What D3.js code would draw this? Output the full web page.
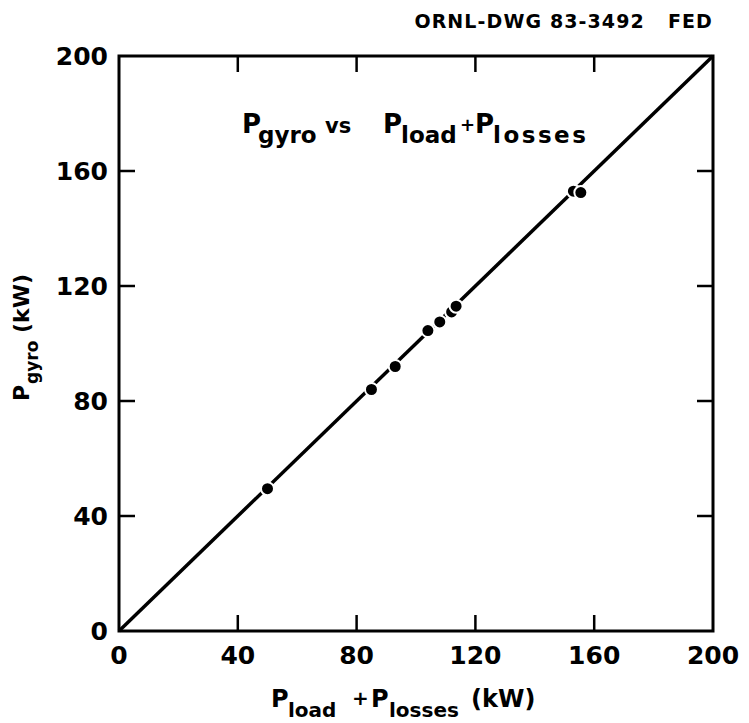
<!DOCTYPE html>
<html>
<head>
<meta charset="utf-8">
<script src="https://cdn.jsdelivr.net/npm/d3@7"></script>
<style>
  body { margin: 0; background: #fff; }
  text { font-family: 'DejaVu Sans', sans-serif; fill: #000; }
</style>
</head>
<body>
<svg id="chart" width="749" height="723"></svg>
<script>
// measured points (kW)
const pLoadLosses = [50, 85, 93, 104, 108, 112, 113.5, 153, 155.5]
const pGyro = [49.5, 84, 92, 104.5, 107.5, 111, 113, 153, 152.5]
const xTicks = [0, 40, 80, 120, 160, 200]
const yTicks = [0, 40, 80, 120, 160, 200]
const fitLine = [[0, 0], [200, 200]]

const width = 749
const height = 723
const margin = { top: 56, right: 36, bottom: 92, left: 119 }

const svg = d3.select('#chart')

const x = d3.scaleLinear().domain([0, 200]).range([margin.left, width - margin.right])
const y = d3.scaleLinear().domain([0, 200]).range([height - margin.bottom, margin.top])

const tickLen = 16

// frame
svg.append('rect')
  .attr('x', x(0)).attr('y', y(200))
  .attr('width', x(200) - x(0)).attr('height', y(0) - y(200))
  .attr('fill', 'none').attr('stroke', '#000').attr('stroke-width', 3)

// inward ticks on all four sides
const ticks = svg.append('g').attr('stroke', '#000').attr('stroke-width', 2.5)
xTicks.slice(1, -1).forEach((t) => {
  ticks.append('line').attr('x1', x(t)).attr('x2', x(t)).attr('y1', y(0)).attr('y2', y(0) - tickLen)
  ticks.append('line').attr('x1', x(t)).attr('x2', x(t)).attr('y1', y(200)).attr('y2', y(200) + tickLen)
})
yTicks.slice(1, -1).forEach((t) => {
  ticks.append('line').attr('x1', x(0)).attr('x2', x(0) + tickLen).attr('y1', y(t)).attr('y2', y(t))
  ticks.append('line').attr('x1', x(200)).attr('x2', x(200) - tickLen).attr('y1', y(t)).attr('y2', y(t))
})

// tick labels
svg.append('g').selectAll('text').data(xTicks).join('text')
  .attr('x', (d) => x(d)).attr('y', y(0) + 33)
  .attr('text-anchor', 'middle').attr('font-size', 25).attr('font-weight', 'bold')
  .text((d) => d)

svg.append('g').selectAll('text').data(yTicks).join('text')
  .attr('x', x(0) - 11).attr('y', (d) => y(d) + 9)
  .attr('text-anchor', 'end').attr('font-size', 25).attr('font-weight', 'bold')
  .text((d) => d)

// y = x line
svg.append('path')
  .datum(fitLine)
  .attr('d', d3.line().x((d) => x(d[0])).y((d) => y(d[1])))
  .attr('stroke', '#000').attr('stroke-width', 3.5).attr('fill', 'none')

// data points
svg.append('g').selectAll('circle').data(pLoadLosses).join('circle')
  .attr('cx', (d) => x(d)).attr('cy', (d, i) => y(pGyro[i]))
  .attr('r', 6.5)
  .attr('fill', '#000').attr('stroke', '#fff').attr('stroke-width', 2)

// drawing number
svg.append('text')
  .attr('x', 713).attr('y', 28)
  .attr('text-anchor', 'end').attr('font-size', 19).attr('font-weight', 'bold')
  .attr('letter-spacing', 1.1)
  .attr('xml:space', 'preserve')
  .text('ORNL-DWG 83-3492   FED')

// title inside the plot
const title = svg.append('text').attr('y', 133).attr('font-size', 26).attr('font-weight', 'bold')
title.append('tspan').attr('x', 242).text('P')
title.append('tspan').attr('x', 258).attr('dy', 10).attr('font-size', 23).text('gyro')
title.append('tspan').attr('x', 325).attr('dy', -10).attr('font-size', 21).text('vs')
title.append('tspan').attr('x', 383).text('P')
title.append('tspan').attr('x', 401).attr('dy', 10).attr('font-size', 23).text('load')
title.append('tspan').attr('x', 460).attr('dy', -12).attr('font-size', 18).text('+')
title.append('tspan').attr('x', 475).attr('dy', 2).text('P')
title.append('tspan').attr('x', 493).attr('dy', 10).attr('font-size', 23).attr('letter-spacing', 2.5).text('losses')

// x axis label
const xl = svg.append('text').attr('y', 707).attr('font-size', 24).attr('font-weight', 'bold')
xl.append('tspan').attr('x', 271).text('P')
xl.append('tspan').attr('x', 288).attr('dy', 10).attr('font-size', 20).text('load')
xl.append('tspan').attr('x', 352).attr('dy', -12).attr('font-size', 20).text('+')
xl.append('tspan').attr('x', 371).attr('dy', 2).text('P')
xl.append('tspan').attr('x', 389).attr('dy', 10).attr('font-size', 20).text('losses')
xl.append('tspan').attr('x', 471).attr('dy', -10).text('(kW)')

// y axis label
const yl = svg.append('text')
  .attr('transform', 'translate(29,0) rotate(-90)')
  .attr('font-size', 22).attr('font-weight', 'bold')
yl.append('tspan').attr('x', -401).text('P')
yl.append('tspan').attr('x', -384).attr('dy', 9).attr('font-size', 17).text('gyro')
yl.append('tspan').attr('x', -333).attr('dy', -9).text('(kW)')
</script>
</body>
</html>
